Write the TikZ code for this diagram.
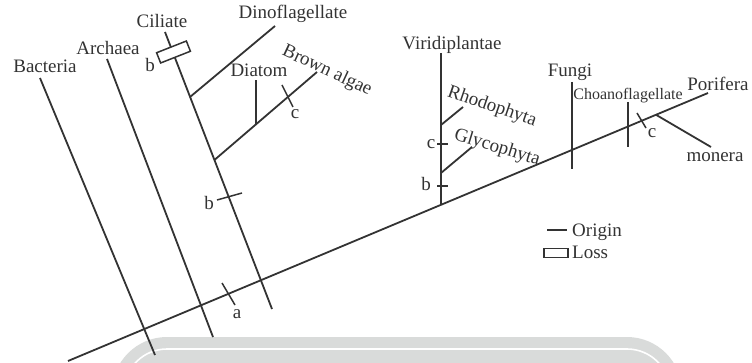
\documentclass[tikz,border=0pt]{standalone}
\usepackage{fontspec}
\setmainfont{Liberation Serif}
\usetikzlibrary{positioning,calc}
\definecolor{ink}{HTML}{333333}
\definecolor{band}{HTML}{d9dbda}

\begin{document}
\begin{tikzpicture}[x=1pt,y=-1pt,
  br/.style={ink,line width=1.8pt},
  tk/.style={ink,line width=1.5pt},
  lbl/.style={inner sep=0pt,anchor=base,text=ink,font=\fontsize{19}{22}\selectfont},
  rlbl/.style={inner sep=0pt,text=ink,font=\fontsize{19}{22}\selectfont}]
\useasboundingbox (0,0) rectangle (752,363);
% grey band at the foot
\fill[band,rounded corners=55pt] (112,337) rectangle (682,430);
\draw[white,line width=1.6pt,rounded corners=43pt] (124,349) rectangle (670,430);
% main points
\coordinate (root) at (68,361);
\coordinate (tip) at (708,93);
\coordinate (bacTop) at (40,78);   \coordinate (bacEnd) at (155,355);
\coordinate (arcTop) at (107,59);  \coordinate (arcEnd) at (213,337);
\coordinate (eukTop) at (165,32);  \coordinate (eukEnd) at (272,309);
\coordinate (dinoJ) at (190,97);   \coordinate (dinoEnd) at (275,26);
\coordinate (brownJ) at (214.4,160); \coordinate (brownEnd) at (317,72);
\coordinate (diaJ) at (256,124.3); \coordinate (diaEnd) at (256,80);
\coordinate (viriTop) at (441,53); \coordinate (viriJ) at (441,204.8);
\coordinate (rhoJ) at (441,125);   \coordinate (rhoEnd) at (463,107);
\coordinate (glyJ) at (441,173);   \coordinate (glyEnd) at (472,147);
\coordinate (funTop) at (572,82);  \coordinate (funEnd) at (572,169);
\coordinate (choTop) at (628,102); \coordinate (choEnd) at (628,147);
\coordinate (monJ) at (656,114.8); \coordinate (monEnd) at (711,147);
% tree
\draw[br] (root) -- (tip);
\draw[br] (bacTop) -- (bacEnd);
\draw[br] (arcTop) -- (arcEnd);
\draw[br] (eukTop) -- (eukEnd);
\draw[br] (dinoJ) -- (dinoEnd);
\draw[br] (brownJ) -- (brownEnd);
\draw[br] (diaJ) -- (diaEnd);
\draw[ink,line width=2.3pt] (viriTop) -- (viriJ);
\draw[br] (rhoJ) -- (rhoEnd);
\draw[br] (glyJ) -- (glyEnd);
\draw[br] (funTop) -- (funEnd);
\draw[ink,line width=2.8pt] (choTop) -- (choEnd);
\draw[br] (monJ) -- (monEnd);
% origins
\foreach \p/\q in {{217,200}/{242,193},{282,85}/{293,107},{437,144}/{448,144},
  {437,186}/{448,186},{222,283}/{235,305},{637,113}/{646,128}}
  \draw[tk] (\p) -- (\q);
% loss of the ciliate
\node[draw=ink,fill=white,line width=1.5pt,inner sep=0pt,minimum width=32pt,
  minimum height=11pt,rotate=21.5] (loss) at (173.5,52) {};
% taxa
\node[lbl] (bacteria) at (45,73) {Bacteria};
\node[lbl] (archaea) at (108,55) {Archaea};
\node[lbl] (ciliate) at (162,28) {Ciliate};
\node[lbl] (dino) at (293,19) {Dinoflagellate};
\node[lbl] (diatom) at (259,77) {Diatom};
\node[rlbl,rotate=-25] (brown) at (327,71) {Brown algae};
\node[lbl] (viridi) at (452,50) {Viridiplantae};
\node[rlbl,rotate=-19] (rhodo) at (492,107) {Rhodophyta};
\node[rlbl,rotate=-17] (glyco) at (497,148) {Glycophyta};
\node[lbl] (fungi) at (570,77) {Fungi};
\node[lbl,font=\fontsize{16}{18}\selectfont] (choano) at (628,100) {Choanoflagellate};
\node[lbl] (porifera) at (718,91) {Porifera};
\node[lbl] (monera) at (715,162) {monera};
% marks
\node[lbl] (mb1) at (150,72) {b};
\node[lbl] (mb2) at (209,210) {b};
\node[lbl] (mc1) at (295,119) {c};
\node[lbl] (ma) at (237,318) {a};
\node[lbl] (mc2) at (431,149) {c};
\node[lbl] (mb3) at (426,191) {b};
\node[lbl] (mc3) at (652,138) {c};
% key
\coordinate (orgL) at (547,230); \coordinate (orgR) at (567,230);
\draw[tk] (orgL) -- (orgR);
\node[draw=ink,line width=1.3pt,inner sep=0pt,minimum width=24pt,minimum height=9pt] (lossKey) at (556,253) {};
\node[lbl,anchor=base west] (origin) at (572,237) {Origin};
\node[lbl,anchor=base west] (lossTxt) at (572,259) {Loss};
\end{tikzpicture}
\end{document}
